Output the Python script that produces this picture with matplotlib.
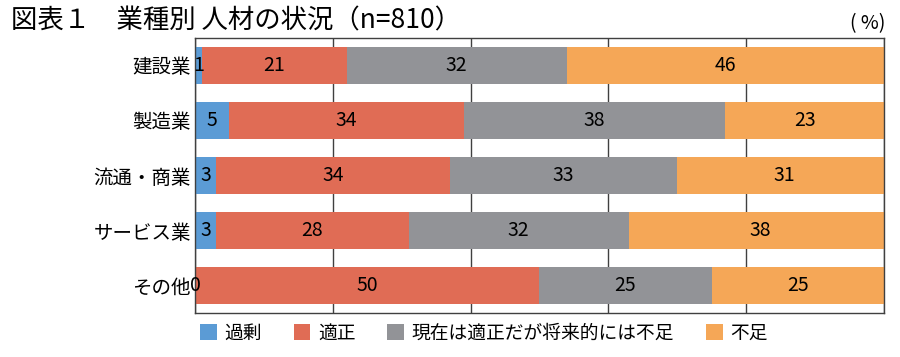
import numpy as np
import matplotlib
matplotlib.use("Agg")
import matplotlib.pyplot as plt
from matplotlib.patches import Patch

plt.rcParams['font.family'] = ['Noto Sans CJK JP', 'DejaVu Sans']

# data
categories = ["建設業", "製造業", "流通・商業", "サービス業", "その他"]
series_names = ["過剰", "適正", "現在は適正だが将来的には不足", "不足"]
kajo = [1, 5, 3, 3, 0]
tekisei = [21, 34, 34, 28, 50]
shorai_fusoku = [32, 38, 33, 32, 25]
fusoku = [46, 23, 31, 38, 25]
colors = ["#5b9bd5", "#e06c55", "#929397", "#f5a757"]

series = [kajo, tekisei, shorai_fusoku, fusoku]

fig = plt.figure(figsize=(9, 3.57), dpi=100)
ax = fig.add_axes([0.2167, 0.1232, 0.7653, 0.7704])

y = np.arange(len(categories))
left = np.zeros(len(categories))
for vals, col in zip(series, colors):
    vals = np.array(vals, dtype=float)
    ax.barh(y, vals, left=left, height=0.66, color=col, zorder=2)
    for yi, l, v in zip(y, left, vals):
        ax.text(l + v / 2, yi, f"{int(v)}", ha="center", va="center",
                fontsize=14, color="black", zorder=3)
    left += vals

ax.set_xlim(0, 100)
ax.set_ylim(len(categories) - 0.5, -0.5)
ax.set_yticks(y)
ax.set_yticklabels(categories, fontsize=14)
ax.tick_params(axis="y", length=0, pad=3)
ax.set_xticks(np.arange(0, 101, 20))
ax.tick_params(axis="x", length=0, labelbottom=False)
ax.grid(axis="x", color="#404040", linewidth=1, zorder=1)
for s in ax.spines.values():
    s.set_color("#404040")
    s.set_linewidth(1)

fig.text(0.012, 0.94, "図表１　業種別 人材の状況（n=810）", fontsize=19,
         ha="left", va="center")
fig.text(0.984, 0.935, "( %)", fontsize=14, ha="right", va="center")

handles = [Patch(facecolor=c, edgecolor="none") for c in colors]
fig.legend(handles, series_names, loc="center left", bbox_to_anchor=(0.222, 0.067),
           ncol=4, frameon=False, fontsize=13.5, handlelength=0.9, handleheight=0.9,
           handletextpad=0.4, columnspacing=1.7, borderpad=0, borderaxespad=0)

fig.savefig("out.png", dpi=100)
